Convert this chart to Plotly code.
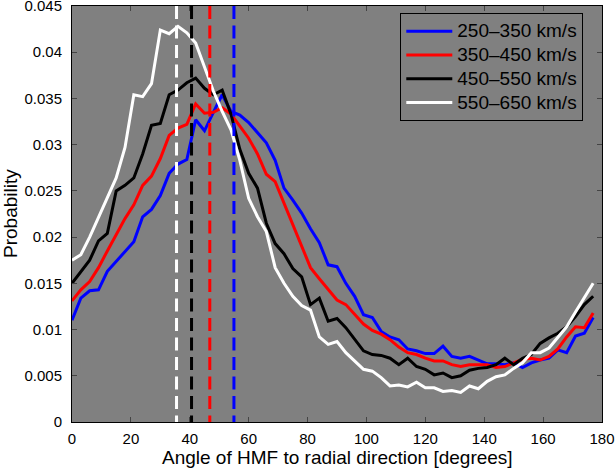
import plotly.graph_objects as go

angles = list(range(0, 180, 3))

p250_350 = [0.0110, 0.0134, 0.0142, 0.0143, 0.0163, 0.0174, 0.0184, 0.0195, 0.0222, 0.0230,
            0.0245, 0.0269, 0.0279, 0.0284, 0.0327, 0.0315, 0.0335, 0.0354, 0.0336, 0.0332,
            0.0324, 0.0313, 0.0302, 0.0283, 0.0253, 0.0240, 0.0226, 0.0209, 0.0194, 0.0170,
            0.0168, 0.0150, 0.0136, 0.0116, 0.0113, 0.0098, 0.0092, 0.0089, 0.0079, 0.0077,
            0.0074, 0.0074, 0.0082, 0.0071, 0.0069, 0.0071, 0.0067, 0.0063, 0.0063, 0.0062,
            0.0064, 0.0059, 0.0064, 0.0067, 0.0069, 0.0078, 0.0075, 0.0093, 0.0096, 0.0113]

p350_450 = [0.0131, 0.0143, 0.0152, 0.0167, 0.0185, 0.0203, 0.0220, 0.0235, 0.0256, 0.0266,
            0.0285, 0.0310, 0.0318, 0.0322, 0.0344, 0.0334, 0.0335, 0.0340, 0.0333, 0.0320,
            0.0307, 0.0290, 0.0268, 0.0260, 0.0237, 0.0215, 0.0192, 0.0167, 0.0155, 0.0143,
            0.0132, 0.0127, 0.0116, 0.0106, 0.0099, 0.0095, 0.0089, 0.0081, 0.0075, 0.0073,
            0.0069, 0.0066, 0.0066, 0.0062, 0.0060, 0.0062, 0.0062, 0.0062, 0.0059, 0.0060,
            0.0064, 0.0068, 0.0069, 0.0067, 0.0071, 0.0079, 0.0092, 0.0103, 0.0102, 0.0118]

p450_550 = [0.0150, 0.0162, 0.0175, 0.0196, 0.0204, 0.0250, 0.0256, 0.0264, 0.0290, 0.0321,
            0.0323, 0.0354, 0.0359, 0.0367, 0.0372, 0.0361, 0.0354, 0.0359, 0.0333, 0.0295,
            0.0269, 0.0253, 0.0215, 0.0193, 0.0182, 0.0166, 0.0157, 0.0127, 0.0134, 0.0109,
            0.0112, 0.0102, 0.0089, 0.0077, 0.0073, 0.0072, 0.0069, 0.0062, 0.0069, 0.0060,
            0.0057, 0.0051, 0.0053, 0.0048, 0.0050, 0.0056, 0.0058, 0.0059, 0.0062, 0.0069,
            0.0062, 0.0069, 0.0073, 0.0085, 0.0091, 0.0096, 0.0103, 0.0114, 0.0127, 0.0136]

p550_650 = [0.0175, 0.0181, 0.0200, 0.0222, 0.0244, 0.0264, 0.0297, 0.0354, 0.0352, 0.0366,
            0.0424, 0.0420, 0.0428, 0.0421, 0.0410, 0.0385, 0.0358, 0.0336, 0.0316, 0.0283,
            0.0242, 0.0222, 0.0206, 0.0167, 0.0150, 0.0136, 0.0126, 0.0121, 0.0092, 0.0084,
            0.0087, 0.0075, 0.0066, 0.0057, 0.0055, 0.0048, 0.0039, 0.0040, 0.0038, 0.0043,
            0.0037, 0.0037, 0.0033, 0.0034, 0.0032, 0.0039, 0.0036, 0.0044, 0.0049, 0.0051,
            0.0058, 0.0064, 0.0075, 0.0075, 0.0080, 0.0091, 0.0103, 0.0119, 0.0134, 0.0150]

series_names = ["250\u2013350 km/s", "350\u2013450 km/s", "450\u2013550 km/s", "550\u2013650 km/s"]
series_values = [p250_350, p350_450, p450_550, p550_650]
series_colors = ["#0000ff", "#ff0000", "#000000", "#ffffff"]
mean_angles = [55.0, 46.8, 40.6, 35.5]

x_ticks = [0, 20, 40, 60, 80, 100, 120, 140, 160, 180]
y_ticks = [0, 0.005, 0.01, 0.015, 0.02, 0.025, 0.03, 0.035, 0.04, 0.045]
y_ticktext = ["0", "0.005", "0.01", "0.015", "0.02", "0.025", "0.03", "0.035", "0.04", "0.045"]
x_title = "Angle of HMF to radial direction [degrees]"
y_title = "Probability"

fig = go.Figure()
for name, vals, col in zip(series_names, series_values, series_colors):
    fig.add_trace(go.Scatter(x=angles, y=vals, mode="lines",
                             name="<span style='font-size:19px'>" + name + "</span>",
                             line=dict(color=col, width=3)))
for m, col in zip(mean_angles, series_colors):
    fig.add_trace(go.Scatter(x=[m, m], y=[y_ticks[-1], y_ticks[0]], mode="lines", showlegend=False,
                             line=dict(color=col, width=3, dash="13px,6.5px")))

font_family = "Liberation Sans, Arial, Helvetica, sans-serif"
fig.update_layout(
    width=615, height=469,
    margin=dict(l=72, r=13, t=6, b=47, autoexpand=False),
    paper_bgcolor="white", plot_bgcolor="#808080",
    font=dict(family=font_family, color="black", size=15),
    showlegend=True,
    legend=dict(x=0.9647, y=0.9825, xanchor="right", yanchor="top",
                bgcolor="#808080", bordercolor="black", borderwidth=1,
                font=dict(size=16, color="black", family=font_family),
                tracegroupgap=0, itemwidth=46),
    xaxis=dict(range=[0, 180], tickvals=x_ticks, ticks="inside", ticklen=5,
               showline=True, linecolor="black", linewidth=1, mirror="ticks",
               showgrid=False, zeroline=False, automargin=False,
               ticklabelstandoff=3, ticklabeloverflow="allow", tickfont=dict(size=15)),
    yaxis=dict(range=[0, 0.045], tickvals=y_ticks, ticktext=y_ticktext, ticks="inside", ticklen=5,
               showline=True, linecolor="black", linewidth=1, mirror="ticks",
               showgrid=False, zeroline=False, automargin=False,
               ticklabelstandoff=6, ticklabeloverflow="allow", tickfont=dict(size=15)),
    annotations=[
        dict(text=x_title, xref="paper", yref="paper", x=0.5, y=0, xanchor="center",
             yanchor="middle", yshift=-35, showarrow=False, font=dict(size=19)),
        dict(text=y_title, xref="paper", yref="paper", x=0, y=0.5, xanchor="center",
             yanchor="middle", xshift=-62, textangle=-90, showarrow=False, font=dict(size=19)),
    ],
)

fig.write_html("out.html", config={"displayModeBar": False},
               post_script="document.body.style.margin='0';document.body.style.overflow='hidden';")
